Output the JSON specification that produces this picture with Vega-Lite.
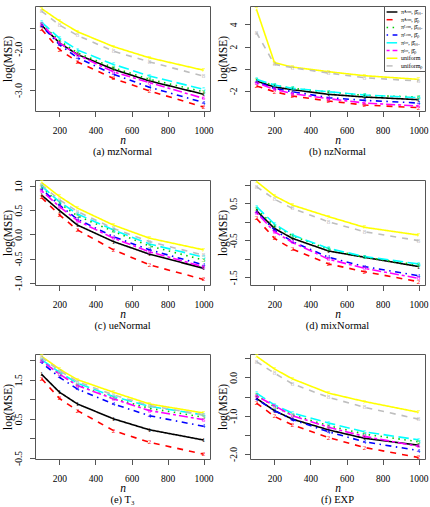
{
"$schema":"https://vega.github.io/schema/vega-lite/v6.json",
"padding":{"left":2,"top":5,"right":0,"bottom":0},
"background":"white",
"datasets":{"d":[
{"p":"a","k":"1","n":100,"v":-1.43},{"p":"a","k":"1","n":200,"v":-1.86},{"p":"a","k":"1","n":300,"v":-2.14},{"p":"a","k":"1","n":500,"v":-2.50},{"p":"a","k":"1","n":700,"v":-2.78},{"p":"a","k":"1","n":1000,"v":-3.10},
{"p":"a","k":"2","n":100,"v":-1.53},{"p":"a","k":"2","n":200,"v":-2.02},{"p":"a","k":"2","n":300,"v":-2.32},{"p":"a","k":"2","n":500,"v":-2.72},{"p":"a","k":"2","n":700,"v":-3.02},{"p":"a","k":"2","n":1000,"v":-3.41},
{"p":"a","k":"3","n":100,"v":-1.40},{"p":"a","k":"3","n":200,"v":-1.81},{"p":"a","k":"3","n":300,"v":-2.10},{"p":"a","k":"3","n":500,"v":-2.46},{"p":"a","k":"3","n":700,"v":-2.74},{"p":"a","k":"3","n":1000,"v":-3.04},
{"p":"a","k":"4","n":100,"v":-1.45},{"p":"a","k":"4","n":200,"v":-1.90},{"p":"a","k":"4","n":300,"v":-2.22},{"p":"a","k":"4","n":500,"v":-2.62},{"p":"a","k":"4","n":700,"v":-2.93},{"p":"a","k":"4","n":1000,"v":-3.30},
{"p":"a","k":"5","n":100,"v":-1.36},{"p":"a","k":"5","n":200,"v":-1.75},{"p":"a","k":"5","n":300,"v":-2.03},{"p":"a","k":"5","n":500,"v":-2.38},{"p":"a","k":"5","n":700,"v":-2.66},{"p":"a","k":"5","n":1000,"v":-2.98},
{"p":"a","k":"6","n":100,"v":-1.40},{"p":"a","k":"6","n":200,"v":-1.86},{"p":"a","k":"6","n":300,"v":-2.15},{"p":"a","k":"6","n":500,"v":-2.56},{"p":"a","k":"6","n":700,"v":-2.82},{"p":"a","k":"6","n":1000,"v":-3.20},
{"p":"a","k":"7","n":100,"v":-1.03},{"p":"a","k":"7","n":200,"v":-1.33},{"p":"a","k":"7","n":300,"v":-1.59},{"p":"a","k":"7","n":500,"v":-1.95},{"p":"a","k":"7","n":700,"v":-2.22},{"p":"a","k":"7","n":1000,"v":-2.52},
{"p":"a","k":"8","n":100,"v":-1.09},{"p":"a","k":"8","n":200,"v":-1.43},{"p":"a","k":"8","n":300,"v":-1.68},{"p":"a","k":"8","n":500,"v":-2.06},{"p":"a","k":"8","n":700,"v":-2.32},{"p":"a","k":"8","n":1000,"v":-2.66},
{"p":"b","k":"1","n":100,"v":-1.11},{"p":"b","k":"1","n":200,"v":-1.65},{"p":"b","k":"1","n":300,"v":-1.89},{"p":"b","k":"1","n":500,"v":-2.31},{"p":"b","k":"1","n":700,"v":-2.55},{"p":"b","k":"1","n":1000,"v":-2.79},
{"p":"b","k":"2","n":100,"v":-1.56},{"p":"b","k":"2","n":200,"v":-2.07},{"p":"b","k":"2","n":300,"v":-2.46},{"p":"b","k":"2","n":500,"v":-2.91},{"p":"b","k":"2","n":700,"v":-3.27},{"p":"b","k":"2","n":1000,"v":-3.51},
{"p":"b","k":"3","n":100,"v":-1.05},{"p":"b","k":"3","n":200,"v":-1.50},{"p":"b","k":"3","n":300,"v":-1.77},{"p":"b","k":"3","n":500,"v":-2.10},{"p":"b","k":"3","n":700,"v":-2.40},{"p":"b","k":"3","n":1000,"v":-2.55},
{"p":"b","k":"4","n":100,"v":-1.17},{"p":"b","k":"4","n":200,"v":-1.77},{"p":"b","k":"4","n":300,"v":-2.07},{"p":"b","k":"4","n":500,"v":-2.61},{"p":"b","k":"4","n":700,"v":-2.85},{"p":"b","k":"4","n":1000,"v":-3.09},
{"p":"b","k":"5","n":100,"v":-0.96},{"p":"b","k":"5","n":200,"v":-1.47},{"p":"b","k":"5","n":300,"v":-1.77},{"p":"b","k":"5","n":500,"v":-2.07},{"p":"b","k":"5","n":700,"v":-2.37},{"p":"b","k":"5","n":1000,"v":-2.61},
{"p":"b","k":"6","n":100,"v":-1.26},{"p":"b","k":"6","n":200,"v":-1.86},{"p":"b","k":"6","n":300,"v":-2.25},{"p":"b","k":"6","n":500,"v":-2.70},{"p":"b","k":"6","n":700,"v":-3.09},{"p":"b","k":"6","n":1000,"v":-3.36},
{"p":"b","k":"7","n":100,"v":5.35},{"p":"b","k":"7","n":200,"v":0.54},{"p":"b","k":"7","n":300,"v":0.15},{"p":"b","k":"7","n":500,"v":-0.27},{"p":"b","k":"7","n":700,"v":-0.63},{"p":"b","k":"7","n":1000,"v":-0.96},
{"p":"b","k":"8","n":100,"v":3.24},{"p":"b","k":"8","n":200,"v":0.39},{"p":"b","k":"8","n":300,"v":0.09},{"p":"b","k":"8","n":500,"v":-0.39},{"p":"b","k":"8","n":700,"v":-0.81},{"p":"b","k":"8","n":1000,"v":-1.11},
{"p":"c","k":"1","n":100,"v":0.81},{"p":"c","k":"1","n":200,"v":0.49},{"p":"c","k":"1","n":300,"v":0.19},{"p":"c","k":"1","n":500,"v":-0.15},{"p":"c","k":"1","n":700,"v":-0.41},{"p":"c","k":"1","n":1000,"v":-0.70},
{"p":"c","k":"2","n":100,"v":0.76},{"p":"c","k":"2","n":200,"v":0.40},{"p":"c","k":"2","n":300,"v":0.09},{"p":"c","k":"2","n":500,"v":-0.32},{"p":"c","k":"2","n":700,"v":-0.63},{"p":"c","k":"2","n":1000,"v":-0.93},
{"p":"c","k":"3","n":100,"v":0.97},{"p":"c","k":"3","n":200,"v":0.64},{"p":"c","k":"3","n":300,"v":0.38},{"p":"c","k":"3","n":500,"v":0.06},{"p":"c","k":"3","n":700,"v":-0.24},{"p":"c","k":"3","n":1000,"v":-0.53},
{"p":"c","k":"4","n":100,"v":0.93},{"p":"c","k":"4","n":200,"v":0.60},{"p":"c","k":"4","n":300,"v":0.31},{"p":"c","k":"4","n":500,"v":-0.05},{"p":"c","k":"4","n":700,"v":-0.32},{"p":"c","k":"4","n":1000,"v":-0.63},
{"p":"c","k":"5","n":100,"v":1.00},{"p":"c","k":"5","n":200,"v":0.67},{"p":"c","k":"5","n":300,"v":0.42},{"p":"c","k":"5","n":500,"v":0.09},{"p":"c","k":"5","n":700,"v":-0.20},{"p":"c","k":"5","n":1000,"v":-0.47},
{"p":"c","k":"6","n":100,"v":0.90},{"p":"c","k":"6","n":200,"v":0.57},{"p":"c","k":"6","n":300,"v":0.28},{"p":"c","k":"6","n":500,"v":-0.08},{"p":"c","k":"6","n":700,"v":-0.36},{"p":"c","k":"6","n":1000,"v":-0.67},
{"p":"c","k":"7","n":100,"v":1.07},{"p":"c","k":"7","n":200,"v":0.78},{"p":"c","k":"7","n":300,"v":0.54},{"p":"c","k":"7","n":500,"v":0.19},{"p":"c","k":"7","n":700,"v":-0.08},{"p":"c","k":"7","n":1000,"v":-0.32},
{"p":"c","k":"8","n":100,"v":1.02},{"p":"c","k":"8","n":200,"v":0.71},{"p":"c","k":"8","n":300,"v":0.47},{"p":"c","k":"8","n":500,"v":0.12},{"p":"c","k":"8","n":700,"v":-0.15},{"p":"c","k":"8","n":1000,"v":-0.43},
{"p":"d","k":"1","n":100,"v":0.30},{"p":"d","k":"1","n":200,"v":-0.18},{"p":"d","k":"1","n":300,"v":-0.45},{"p":"d","k":"1","n":500,"v":-0.79},{"p":"d","k":"1","n":700,"v":-0.96},{"p":"d","k":"1","n":1000,"v":-1.21},
{"p":"d","k":"2","n":100,"v":0.09},{"p":"d","k":"2","n":200,"v":-0.45},{"p":"d","k":"2","n":300,"v":-0.74},{"p":"d","k":"2","n":500,"v":-1.14},{"p":"d","k":"2","n":700,"v":-1.35},{"p":"d","k":"2","n":1000,"v":-1.62},
{"p":"d","k":"3","n":100,"v":0.34},{"p":"d","k":"3","n":200,"v":-0.11},{"p":"d","k":"3","n":300,"v":-0.38},{"p":"d","k":"3","n":500,"v":-0.74},{"p":"d","k":"3","n":700,"v":-0.96},{"p":"d","k":"3","n":1000,"v":-1.17},
{"p":"d","k":"4","n":100,"v":0.27},{"p":"d","k":"4","n":200,"v":-0.22},{"p":"d","k":"4","n":300,"v":-0.54},{"p":"d","k":"4","n":500,"v":-0.96},{"p":"d","k":"4","n":700,"v":-1.21},{"p":"d","k":"4","n":1000,"v":-1.46},
{"p":"d","k":"5","n":100,"v":0.41},{"p":"d","k":"5","n":200,"v":-0.06},{"p":"d","k":"5","n":300,"v":-0.36},{"p":"d","k":"5","n":500,"v":-0.72},{"p":"d","k":"5","n":700,"v":-0.94},{"p":"d","k":"5","n":1000,"v":-1.14},
{"p":"d","k":"6","n":100,"v":0.25},{"p":"d","k":"6","n":200,"v":-0.27},{"p":"d","k":"6","n":300,"v":-0.56},{"p":"d","k":"6","n":500,"v":-1.01},{"p":"d","k":"6","n":700,"v":-1.26},{"p":"d","k":"6","n":1000,"v":-1.53},
{"p":"d","k":"7","n":100,"v":1.09},{"p":"d","k":"7","n":200,"v":0.70},{"p":"d","k":"7","n":300,"v":0.45},{"p":"d","k":"7","n":500,"v":0.14},{"p":"d","k":"7","n":700,"v":-0.15},{"p":"d","k":"7","n":1000,"v":-0.36},
{"p":"d","k":"8","n":100,"v":0.95},{"p":"d","k":"8","n":200,"v":0.61},{"p":"d","k":"8","n":300,"v":0.36},{"p":"d","k":"8","n":500,"v":0.00},{"p":"d","k":"8","n":700,"v":-0.27},{"p":"d","k":"8","n":1000,"v":-0.51},
{"p":"e","k":"1","n":100,"v":1.64},{"p":"e","k":"1","n":200,"v":1.18},{"p":"e","k":"1","n":300,"v":0.88},{"p":"e","k":"1","n":500,"v":0.50},{"p":"e","k":"1","n":700,"v":0.22},{"p":"e","k":"1","n":1000,"v":-0.04},
{"p":"e","k":"2","n":100,"v":1.53},{"p":"e","k":"2","n":200,"v":1.02},{"p":"e","k":"2","n":300,"v":0.71},{"p":"e","k":"2","n":500,"v":0.20},{"p":"e","k":"2","n":700,"v":-0.10},{"p":"e","k":"2","n":1000,"v":-0.40},
{"p":"e","k":"3","n":100,"v":1.99},{"p":"e","k":"3","n":200,"v":1.64},{"p":"e","k":"3","n":300,"v":1.36},{"p":"e","k":"3","n":500,"v":1.02},{"p":"e","k":"3","n":700,"v":0.77},{"p":"e","k":"3","n":1000,"v":0.54},
{"p":"e","k":"4","n":100,"v":1.94},{"p":"e","k":"4","n":200,"v":1.56},{"p":"e","k":"4","n":300,"v":1.26},{"p":"e","k":"4","n":500,"v":0.88},{"p":"e","k":"4","n":700,"v":0.58},{"p":"e","k":"4","n":1000,"v":0.31},
{"p":"e","k":"5","n":100,"v":2.01},{"p":"e","k":"5","n":200,"v":1.69},{"p":"e","k":"5","n":300,"v":1.41},{"p":"e","k":"5","n":500,"v":1.07},{"p":"e","k":"5","n":700,"v":0.82},{"p":"e","k":"5","n":1000,"v":0.60},
{"p":"e","k":"6","n":100,"v":1.99},{"p":"e","k":"6","n":200,"v":1.64},{"p":"e","k":"6","n":300,"v":1.35},{"p":"e","k":"6","n":500,"v":1.01},{"p":"e","k":"6","n":700,"v":0.71},{"p":"e","k":"6","n":1000,"v":0.48},
{"p":"e","k":"7","n":100,"v":2.10},{"p":"e","k":"7","n":200,"v":1.77},{"p":"e","k":"7","n":300,"v":1.50},{"p":"e","k":"7","n":500,"v":1.18},{"p":"e","k":"7","n":700,"v":0.88},{"p":"e","k":"7","n":1000,"v":0.65},
{"p":"e","k":"8","n":100,"v":2.07},{"p":"e","k":"8","n":200,"v":1.73},{"p":"e","k":"8","n":300,"v":1.45},{"p":"e","k":"8","n":500,"v":1.11},{"p":"e","k":"8","n":700,"v":0.84},{"p":"e","k":"8","n":1000,"v":0.60},
{"p":"f","k":"1","n":100,"v":-0.55},{"p":"f","k":"1","n":200,"v":-0.87},{"p":"f","k":"1","n":300,"v":-1.09},{"p":"f","k":"1","n":500,"v":-1.37},{"p":"f","k":"1","n":700,"v":-1.59},{"p":"f","k":"1","n":1000,"v":-1.77},
{"p":"f","k":"2","n":100,"v":-0.67},{"p":"f","k":"2","n":200,"v":-1.02},{"p":"f","k":"2","n":300,"v":-1.24},{"p":"f","k":"2","n":500,"v":-1.57},{"p":"f","k":"2","n":700,"v":-1.83},{"p":"f","k":"2","n":1000,"v":-2.09},
{"p":"f","k":"3","n":100,"v":-0.46},{"p":"f","k":"3","n":200,"v":-0.77},{"p":"f","k":"3","n":300,"v":-0.98},{"p":"f","k":"3","n":500,"v":-1.26},{"p":"f","k":"3","n":700,"v":-1.48},{"p":"f","k":"3","n":1000,"v":-1.68},
{"p":"f","k":"4","n":100,"v":-0.57},{"p":"f","k":"4","n":200,"v":-0.87},{"p":"f","k":"4","n":300,"v":-1.10},{"p":"f","k":"4","n":500,"v":-1.42},{"p":"f","k":"4","n":700,"v":-1.68},{"p":"f","k":"4","n":1000,"v":-1.91},
{"p":"f","k":"5","n":100,"v":-0.41},{"p":"f","k":"5","n":200,"v":-0.72},{"p":"f","k":"5","n":300,"v":-0.93},{"p":"f","k":"5","n":500,"v":-1.19},{"p":"f","k":"5","n":700,"v":-1.42},{"p":"f","k":"5","n":1000,"v":-1.63},
{"p":"f","k":"6","n":100,"v":-0.48},{"p":"f","k":"6","n":200,"v":-0.74},{"p":"f","k":"6","n":300,"v":-1.00},{"p":"f","k":"6","n":500,"v":-1.30},{"p":"f","k":"6","n":700,"v":-1.54},{"p":"f","k":"6","n":1000,"v":-1.80},
{"p":"f","k":"7","n":100,"v":0.55},{"p":"f","k":"7","n":200,"v":0.22},{"p":"f","k":"7","n":300,"v":-0.04},{"p":"f","k":"7","n":500,"v":-0.41},{"p":"f","k":"7","n":700,"v":-0.63},{"p":"f","k":"7","n":1000,"v":-0.91},
{"p":"f","k":"8","n":100,"v":0.41},{"p":"f","k":"8","n":200,"v":0.11},{"p":"f","k":"8","n":300,"v":-0.17},{"p":"f","k":"8","n":500,"v":-0.52},{"p":"f","k":"8","n":700,"v":-0.78},{"p":"f","k":"8","n":1000,"v":-1.09}
]},
"data":{"name":"d"},
"columns":2,
"bounds":"flush",
"spacing":{"row":69,"column":40},
"resolve":{"scale":{"color":"independent","strokeDash":"independent"}},
"concat":[
{"width":175,"height":105,"transform":[{"filter":"datum.p=='a'"}],"title":{"text":"(a) mzNormal"},
 "encoding":{"x":{"field":"n","type":"quantitative","scale":{"domain":[64,1036],"nice":false,"zero":false},"axis":{"values":[200,400,600,800,1000],"format":"d","title":"n"}},
  "y":{"field":"v","type":"quantitative","scale":{"domain":[-3.505,-0.969],"nice":false,"zero":false},"axis":{"values":[-3,-2.5,-2,-1.5],"labelExpr":"datum.value==-2?'-2.0':datum.value==-3?'-3.0':''","title":"log(MSE)"}},
  "color":{"field":"k","type":"nominal","scale":{"domain":["1","2","3","4","5","6","7","8"],"range":["#000000","#FF0000","#00CD00","#0000FF","#00FFFF","#FF00FF","#FFFF00","#BEBEBE"]},"legend":null}},
 "layer":[{"mark":{"type":"line","strokeWidth":1.6,"clip":true},"encoding":{"strokeDash":{"field":"k","type":"nominal","scale":{"domain":["1","2","3","4","5","6","7","8"],"range":[[1,0],[6,6],[1.5,4.5],[1.5,4.5,6,4.5],[10.5,4.5],[3,3,9,3],[1,0],[6,6]]},"legend":null}}},
  {"mark":{"type":"text","clip":true,"fontSize":7,"font":"Liberation Serif"},"encoding":{"text":{"field":"k"}}}]},
{"width":175,"height":105,"transform":[{"filter":"datum.p=='b'"}],"title":{"text":"(b) nzNormal"},
 "encoding":{"x":{"field":"n","type":"quantitative","scale":{"domain":[64,1036],"nice":false,"zero":false},"axis":{"values":[200,400,600,800,1000],"format":"d","title":"n"}},
  "y":{"field":"v","type":"quantitative","scale":{"domain":[-3.81,5.65],"nice":false,"zero":false},"axis":{"values":[-2,0,2,4],"labelExpr":"datum.value==-2?'-2':datum.value+''","title":"log(MSE)"}},
  "color":{"field":"k","type":"nominal","scale":{"domain":["1","2","3","4","5","6","7","8"],"range":["#000000","#FF0000","#00CD00","#0000FF","#00FFFF","#FF00FF","#FFFF00","#BEBEBE"]},
   "legend":{"title":null,"orient":"top-right","offset":0,"padding":2,"strokeColor":"#555","fillColor":"white","labelFont":"Liberation Serif","labelFontSize":6,"symbolType":"M-1.8,0H1.8","symbolSize":36,"symbolStrokeWidth":1.5,"rowPadding":0.7,"symbolOffset":2,"labelOffset":5,"labelExpr":"['πᴬᵒᵖᵗ, β̂ₛₛᵣ','πᴬᵒᵖᵗ, β̂ₚ','πᴸᵒᵖᵗ, β̂ₛₛᵣ','πᴸᵒᵖᵗ, β̂ₚ','πˡᵒᶜ, β̂ₛₛᵣ','πˡᵒᶜ, β̂ₚ','uniform','uniformₚ'][toNumber(datum.value)-1]"}}},
 "layer":[{"mark":{"type":"line","strokeWidth":1.6,"clip":true},"encoding":{"strokeDash":{"field":"k","type":"nominal","scale":{"domain":["1","2","3","4","5","6","7","8"],"range":[[1,0],[6,6],[1.5,4.5],[1.5,4.5,6,4.5],[10.5,4.5],[3,3,9,3],[1,0],[6,6]]},
   "legend":{"title":null,"orient":"top-right","offset":0,"padding":2,"strokeColor":"#555","fillColor":"white","labelFont":"Liberation Serif","labelFontSize":6,"symbolType":"M-1.8,0H1.8","symbolSize":36,"symbolStrokeWidth":1.5,"rowPadding":0.7,"symbolOffset":2,"labelOffset":5,"labelExpr":"['πᴬᵒᵖᵗ, β̂ₛₛᵣ','πᴬᵒᵖᵗ, β̂ₚ','πᴸᵒᵖᵗ, β̂ₛₛᵣ','πᴸᵒᵖᵗ, β̂ₚ','πˡᵒᶜ, β̂ₛₛᵣ','πˡᵒᶜ, β̂ₚ','uniform','uniformₚ'][toNumber(datum.value)-1]"}}}},
  {"mark":{"type":"text","clip":true,"fontSize":7,"font":"Liberation Serif"},"encoding":{"text":{"field":"k"}}}]},
{"width":175,"height":105,"transform":[{"filter":"datum.p=='c'"}],"title":{"text":"(c) ueNormal"},
 "encoding":{"x":{"field":"n","type":"quantitative","scale":{"domain":[64,1036],"nice":false,"zero":false},"axis":{"values":[200,400,600,800,1000],"format":"d","title":"n"}},
  "y":{"field":"v","type":"quantitative","scale":{"domain":[-1.045,1.12],"nice":false,"zero":false},"axis":{"values":[-1,-0.5,0,0.5,1],"labelExpr":"datum.value==-1?'-1.0':datum.value==-0.5?'-0.5':datum.value==0?'0.0':datum.value==0.5?'0.5':'1.0'","title":"log(MSE)"}},
  "color":{"field":"k","type":"nominal","scale":{"domain":["1","2","3","4","5","6","7","8"],"range":["#000000","#FF0000","#00CD00","#0000FF","#00FFFF","#FF00FF","#FFFF00","#BEBEBE"]},"legend":null}},
 "layer":[{"mark":{"type":"line","strokeWidth":1.6,"clip":true},"encoding":{"strokeDash":{"field":"k","type":"nominal","scale":{"domain":["1","2","3","4","5","6","7","8"],"range":[[1,0],[6,6],[1.5,4.5],[1.5,4.5,6,4.5],[10.5,4.5],[3,3,9,3],[1,0],[6,6]]},"legend":null}}},
  {"mark":{"type":"text","clip":true,"fontSize":7,"font":"Liberation Serif"},"encoding":{"text":{"field":"k"}}}]},
{"width":175,"height":105,"transform":[{"filter":"datum.p=='d'"}],"title":{"text":"(d) mixNormal"},
 "encoding":{"x":{"field":"n","type":"quantitative","scale":{"domain":[64,1036],"nice":false,"zero":false},"axis":{"values":[200,400,600,800,1000],"format":"d","title":"n"}},
  "y":{"field":"v","type":"quantitative","scale":{"domain":[-1.71,1.13],"nice":false,"zero":false},"axis":{"values":[-1.5,-1,-0.5,0,0.5,1],"labelExpr":"datum.value==-1.5?'-1.5':datum.value==-0.5?'-0.5':datum.value==0.5?'0.5':''","title":"log(MSE)"}},
  "color":{"field":"k","type":"nominal","scale":{"domain":["1","2","3","4","5","6","7","8"],"range":["#000000","#FF0000","#00CD00","#0000FF","#00FFFF","#FF00FF","#FFFF00","#BEBEBE"]},"legend":null}},
 "layer":[{"mark":{"type":"line","strokeWidth":1.6,"clip":true},"encoding":{"strokeDash":{"field":"k","type":"nominal","scale":{"domain":["1","2","3","4","5","6","7","8"],"range":[[1,0],[6,6],[1.5,4.5],[1.5,4.5,6,4.5],[10.5,4.5],[3,3,9,3],[1,0],[6,6]]},"legend":null}}},
  {"mark":{"type":"text","clip":true,"fontSize":7,"font":"Liberation Serif"},"encoding":{"text":{"field":"k"}}}]},
{"width":175,"height":105,"transform":[{"filter":"datum.p=='e'"}],"title":{"text":"(e) T₃"},
 "encoding":{"x":{"field":"n","type":"quantitative","scale":{"domain":[64,1036],"nice":false,"zero":false},"axis":{"values":[200,400,600,800,1000],"format":"d","title":"n"}},
  "y":{"field":"v","type":"quantitative","scale":{"domain":[-0.525,2.156],"nice":false,"zero":false},"axis":{"values":[-0.5,0,0.5,1,1.5,2],"labelExpr":"datum.value==-0.5?'-0.5':datum.value==0.5?'0.5':datum.value==1.5?'1.5':''","title":"log(MSE)"}},
  "color":{"field":"k","type":"nominal","scale":{"domain":["1","2","3","4","5","6","7","8"],"range":["#000000","#FF0000","#00CD00","#0000FF","#00FFFF","#FF00FF","#FFFF00","#BEBEBE"]},"legend":null}},
 "layer":[{"mark":{"type":"line","strokeWidth":1.6,"clip":true},"encoding":{"strokeDash":{"field":"k","type":"nominal","scale":{"domain":["1","2","3","4","5","6","7","8"],"range":[[1,0],[6,6],[1.5,4.5],[1.5,4.5,6,4.5],[10.5,4.5],[3,3,9,3],[1,0],[6,6]]},"legend":null}}},
  {"mark":{"type":"text","clip":true,"fontSize":7,"font":"Liberation Serif"},"encoding":{"text":{"field":"k"}}}]},
{"width":175,"height":105,"transform":[{"filter":"datum.p=='f'"}],"title":{"text":"(f) EXP"},
 "encoding":{"x":{"field":"n","type":"quantitative","scale":{"domain":[64,1036],"nice":false,"zero":false},"axis":{"values":[200,400,600,800,1000],"format":"d","title":"n"}},
  "y":{"field":"v","type":"quantitative","scale":{"domain":[-2.13,0.61],"nice":false,"zero":false},"axis":{"values":[-2,-1.5,-1,-0.5,0,0.5],"labelExpr":"datum.value==-2?'-2.0':datum.value==-1?'-1.0':datum.value==0?'0.0':''","title":"log(MSE)"}},
  "color":{"field":"k","type":"nominal","scale":{"domain":["1","2","3","4","5","6","7","8"],"range":["#000000","#FF0000","#00CD00","#0000FF","#00FFFF","#FF00FF","#FFFF00","#BEBEBE"]},"legend":null}},
 "layer":[{"mark":{"type":"line","strokeWidth":1.6,"clip":true},"encoding":{"strokeDash":{"field":"k","type":"nominal","scale":{"domain":["1","2","3","4","5","6","7","8"],"range":[[1,0],[6,6],[1.5,4.5],[1.5,4.5,6,4.5],[10.5,4.5],[3,3,9,3],[1,0],[6,6]]},"legend":null}}},
  {"mark":{"type":"text","clip":true,"fontSize":7,"font":"Liberation Serif"},"encoding":{"text":{"field":"k"}}}]}
],
"config":{
 "view":{"stroke":"#555","strokeWidth":1},
 "axis":{"grid":false,"domain":false,"tickColor":"#555","tickSize":5.5,"labelFont":"Liberation Serif","labelFontSize":9.5,"labelColor":"#000","titleFont":"Liberation Serif","titleFontSize":11.5,"titleFontWeight":"normal","titleColor":"#000","labelOverlap":false,"labelFlush":false},
 "axisX":{"labelPadding":9,"titlePadding":-1,"titleFontStyle":"italic","labelAngle":0},
 "axisY":{"labelAngle":-90,"labelAlign":"center","labelBaseline":"bottom","labelPadding":6,"titlePadding":0},
 "title":{"orient":"bottom","font":"Liberation Serif","fontSize":10.5,"fontWeight":"normal","color":"#000","offset":1}
}
}
